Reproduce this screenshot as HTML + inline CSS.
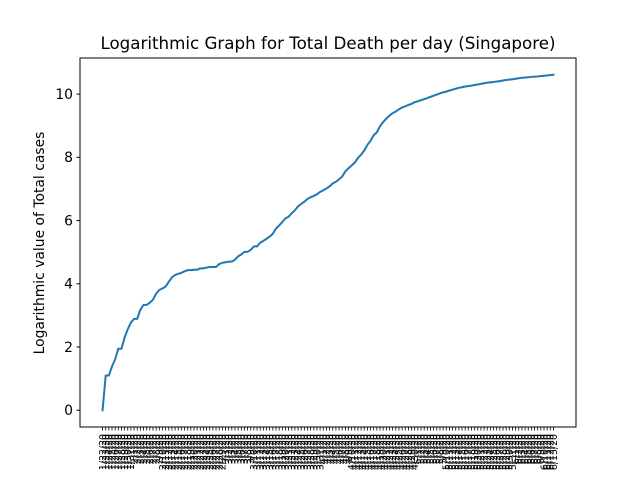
<!DOCTYPE html>
<html><head><meta charset="utf-8"><style>
body{margin:0;background:#fff;}
svg{display:block;font-family:"DejaVu Sans","Liberation Sans",sans-serif;}
</style></head><body>
<svg id="chart" width="640" height="480" viewBox="0 0 640 480">
<rect width="640" height="480" fill="#fff"/>
<text x="328" y="49" font-size="16.7" text-anchor="middle" fill="#000">Logarithmic Graph for Total Death per day (Singapore)</text>
<text transform="translate(44,243) rotate(-90)" font-size="13.9" text-anchor="middle" fill="#000">Logarithmic value of Total cases</text>
<g id="yticks"></g>
<g id="xticks"></g>
<path id="line" fill="none" stroke="#1f77b4" stroke-width="2" stroke-linejoin="round" stroke-linecap="square"/>
<rect x="80" y="58" width="496" height="369" fill="none" stroke="#000" stroke-width="1"/>
</svg>
<script>
const cases = [1,3,3,4,5,7,7,10,13,16,18,18,24,28,28,30,33,40,45,47,50,58,67,72,75,77,81,84,84,85,85,89,89,91,93,93,93,102,106,108,110,110,117,130,138,150,150,160,178,178,200,212,226,243,266,313,345,385,432,455,509,558,631,683,732,802,844,879,926,1000,1049,1114,1189,1309,1375,1481,1623,1910,2108,2299,2532,2918,3252,3699,4427,5050,5992,6588,8014,9125,10141,11178,12075,12693,13624,14423,14951,15641,16169,17101,17548,18205,18778,19410,20198,20939,21707,22460,23336,23822,24671,25346,26098,26891,27356,28038,28343,28794,29364,29812,30426,31068,31616,31960,32343,32876,33249,33860,34366,34884,35292,35836,36405,36922,37183,37527,37910,38296,38514,38965,39387,39850,40197,40604];
const yTicks = [0,2,4,6,8,10];
const startDate = [2020,0,22];
const dates = [];
for (let i=0;i<cases.length;i++){const d=new Date(startDate[0],startDate[1],startDate[2]+i);dates.push((d.getMonth()+1)+'/'+d.getDate()+'/20');}
const values = cases.map(c=>Math.log(c));
const NS='http://www.w3.org/2000/svg';
const L=80,R=576,T=58,B=427;
const n=values.length;
const xm=(n-1)*0.05;
const vmin=Math.min(...values),vmax=Math.max(...values),ym=(vmax-vmin)*0.05;
const xs=i=>L+(i+xm)/((n-1)+2*xm)*(R-L);
const ys=v=>B-(v-(vmin-ym))/((vmax-vmin)+2*ym)*(B-T);
let d='';
values.forEach((v,i)=>{d+=(i?'L':'M')+xs(i).toFixed(2)+','+ys(v).toFixed(2);});
document.getElementById('line').setAttribute('d',d);
const yg=document.getElementById('yticks');
yTicks.forEach(t=>{
 const y=ys(t);
 const ln=document.createElementNS(NS,'line');
 ln.setAttribute('x1',L-3.5);ln.setAttribute('x2',L);ln.setAttribute('y1',y);ln.setAttribute('y2',y);ln.setAttribute('stroke','#000');
 
 
 yg.appendChild(ln);
 const tx=document.createElementNS(NS,'text');
 tx.setAttribute('x',L-7);tx.setAttribute('y',y+4.8);tx.setAttribute('font-size','13.9');tx.setAttribute('text-anchor','end');
 tx.textContent=t;
 
 
 yg.appendChild(tx);
});
const xg=document.getElementById('xticks');
dates.forEach((lab,i)=>{
 const x=xs(i);
 const ln=document.createElementNS(NS,'line');
 ln.setAttribute('x1',x);ln.setAttribute('x2',x);ln.setAttribute('y1',B);ln.setAttribute('y2',B+3.5);ln.setAttribute('stroke','#000');ln.setAttribute('stroke-width','0.8');
 
 
 xg.appendChild(ln);
 const tx=document.createElementNS(NS,'text');
 tx.setAttribute('transform','translate('+(x+3.3)+','+(B+7)+') rotate(-90)');
 tx.setAttribute('font-size','9.4');tx.setAttribute('text-anchor','end');
 tx.textContent=lab;
 
 
 xg.appendChild(tx);
});
</script>
</body></html>
